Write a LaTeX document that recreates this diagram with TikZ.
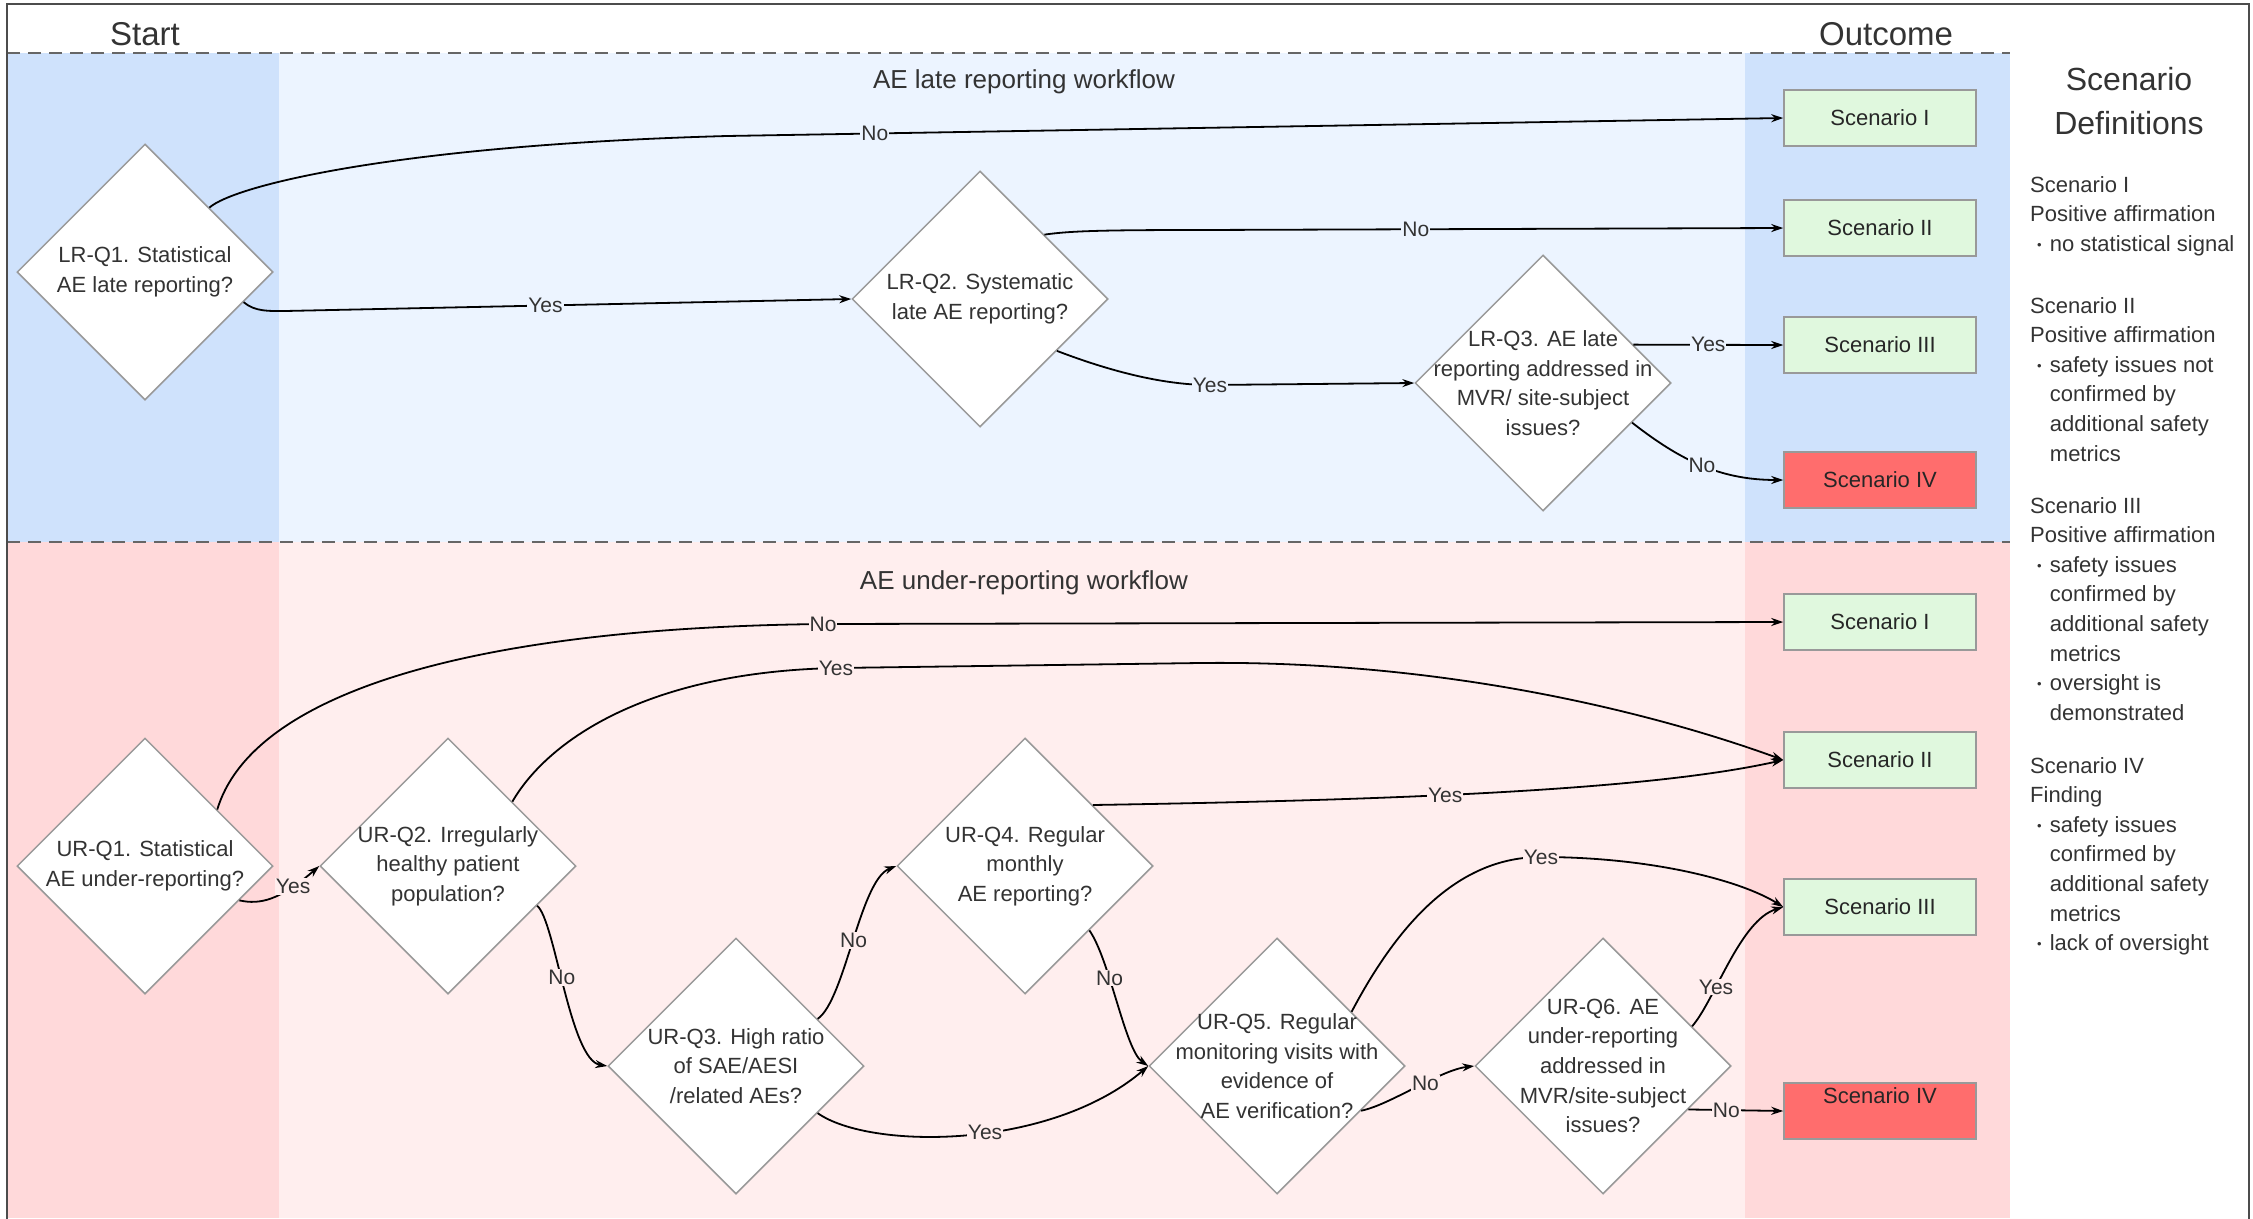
\documentclass[tikz,border=0pt]{standalone}
\usepackage{fontspec}
\setmainfont{Liberation Sans}
\usetikzlibrary{shapes.geometric,arrows.meta}

\definecolor{startblue}{HTML}{CFE2FC}
\definecolor{laneblue}{HTML}{ECF4FF}
\definecolor{startpink}{HTML}{FFD9DA}
\definecolor{lanepink}{HTML}{FFEEEE}
\definecolor{okgreen}{HTML}{E0F8DE}
\definecolor{badred}{HTML}{FF6D6D}

\newcommand{\defbul}{\hspace*{7pt}\raisebox{2pt}{\fontsize{13pt}{13pt}\selectfont\textbullet}\hspace*{8pt}}
\newcommand{\defind}{\hspace*{19.7pt}}

\begin{document}
\begin{tikzpicture}[x=1pt,y=-1pt,
	question/.style={diamond, draw=black!40, line width=1.5pt, fill=white, minimum width=256pt, minimum height=256pt, inner sep=0pt},
	qtext/.style={align=center, inner sep=0pt, font=\fontsize{22pt}{29.6pt}\selectfont, text=black!80},
	scenbox/.style={rectangle, draw=black!40, line width=1.5pt, minimum width=192pt, minimum height=56pt, inner sep=2pt, font=\fontsize{22pt}{26pt}\selectfont, text=black!85},
	good/.style={scenbox, fill=okgreen},
	bad/.style={scenbox, fill=badred},
	flow/.style={draw=black, line width=1.8pt, -{Stealth[length=12pt,width=8pt]}},
	bluelbl/.style={fill=laneblue, inner sep=1pt, font=\fontsize{21pt}{24pt}\selectfont, text=black!80},
	pinklbl/.style={bluelbl, fill=lanepink},
	lanesep/.style={draw=black!60, line width=2pt, dash pattern=on 13pt off 8pt},
	heading/.style={font=\fontsize{33pt}{40pt}\selectfont, text=black!80},
	lanetitle/.style={font=\fontsize{26pt}{30pt}\selectfont, text=black!80},
	deftext/.style={anchor=north west, inner sep=0pt, align=left, font=\fontsize{22pt}{29.6pt}\selectfont, text=black!80}]
	
	\useasboundingbox (0,0) rectangle (2253,1218);
	
	\fill[startblue] (7,53) rectangle (279,542);
	\fill[laneblue] (279,53) rectangle (1745,542);
	\fill[startblue] (1745,53) rectangle (2010,542);
	\fill[startpink] (7,542) rectangle (279,1218);
	\fill[lanepink] (279,542) rectangle (1745,1218);
	\fill[startpink] (1745,542) rectangle (2010,1218);
	\draw[lanesep] (7,53) -- (2010,53);
	\draw[lanesep] (7,542) -- (2010,542);
	\draw[black!70, line width=2.5pt] (7,1230) -- (7,4) -- (2249,4) -- (2249,1230);
	
	\node[heading] (starthead) at (145,34) {Start};
	\node[heading] (outhead) at (1886,34) {Outcome};
	\node[lanetitle] (latetitle) at (1024,82) {AE late reporting workflow};
	\node[lanetitle] (undertitle) at (1024,583) {AE under-reporting workflow};
	
	\node[question, label={[qtext]center:LR-Q1. Statistical\\AE late reporting?}] (LRQ1) at (145,272) {};
	\node[question, label={[qtext]center:LR-Q2. Systematic\\late AE reporting?}] (LRQ2) at (980,299) {};
	\node[question, label={[qtext]center:LR-Q3. AE late\\reporting addressed in\\MVR/ site-subject\\issues?}] (LRQ3) at (1543,383) {};
	
	\node[question, label={[qtext]center:UR-Q1. Statistical\\AE under-reporting?}] (URQ1) at (145,866) {};
	\node[question, label={[qtext]center:UR-Q2. Irregularly\\healthy patient\\population?}] (URQ2) at (448,866) {};
	\node[question, label={[qtext]center:UR-Q3. High ratio\\of SAE/AESI\\/related AEs?}] (URQ3) at (736,1066) {};
	\node[question, label={[qtext]center:UR-Q4. Regular\\monthly\\AE reporting?}] (URQ4) at (1025,866) {};
	\node[question, label={[qtext]center:UR-Q5. Regular\\monitoring visits with\\evidence of\\AE verification?}] (URQ5) at (1277,1066) {};
	\node[question, label={[qtext]center:UR-Q6. AE\\under-reporting\\addressed in\\MVR/site-subject\\issues?}] (URQ6) at (1603,1066) {};
	
	\node[good] (ScIa) at (1880,118) {Scenario I};
	\node[good] (ScIIa) at (1880,228) {Scenario II};
	\node[good] (ScIIIa) at (1880,345) {Scenario III};
	\node[bad] (ScIVa) at (1880,480) {Scenario IV};
	\node[good] (ScIb) at (1880,622) {Scenario I};
	\node[good] (ScIIb) at (1880,760) {Scenario II};
	\node[good] (ScIIIb) at (1880,907) {Scenario III};
	\node[bad, text depth=30pt] (ScIVb) at (1880,1111) {Scenario IV};
	
	\draw[flow] (LRQ1.north east) .. controls (235,185) and (400,145) .. (727,136) -- node[bluelbl, pos=0.14]{No} (ScIa.west);
	\draw[flow] (LRQ1.-17) .. controls (255,312) and (270,311) .. (285,311) -- node[bluelbl, pos=0.46]{Yes} (LRQ2.west);
	\draw[flow] (LRQ2.north east) .. controls (1070,231) and (1100,230) .. (1200,230) -- node[bluelbl, pos=0.37]{No} (ScIIa.west);
	\draw[flow] (LRQ2.-34) .. controls (1120,375) and (1170,385) .. (1210,385) node[bluelbl]{Yes} -- (LRQ3.west);
	\draw[flow] (LRQ3.23) -- node[bluelbl]{Yes} (ScIIIa.west);
	\draw[flow] (LRQ3.-24) .. controls (1680,460) and (1720,480) .. node[bluelbl]{No} (ScIVa.west);
	
	\draw[flow] (URQ1.38) .. controls (250,700) and (450,628) .. (823,624) node[pinklbl]{No} -- (ScIb.west);
	\draw[flow] (URQ1.-20) .. controls (260,905) and (280,900) .. node[pinklbl, pos=0.75]{Yes} (URQ2.west);
	\draw[flow] (URQ2.north east) .. controls (545,745) and (640,672) .. (836,668) node[pinklbl]{Yes} -- (1200,663) .. controls (1450,660) and (1660,715) .. (ScIIb.west);
	\draw[flow] (URQ2.-24) .. controls (555,920) and (570,1060) .. node[pinklbl, pos=0.45]{No} (URQ3.west);
	\draw[flow] (URQ3.30) .. controls (845,1000) and (860,880) .. node[pinklbl]{No} (URQ4.west);
	\draw[flow] (URQ3.-30) .. controls (870,1150) and (1050,1150) .. node[pinklbl, pos=0.55]{Yes} (URQ5.west);
	\draw[flow] (URQ4.42) .. controls (1400,800) and (1650,790) .. node[pinklbl, pos=0.42]{Yes} (ScIIb.west);
	\draw[flow] (URQ4.south east) .. controls (1110,960) and (1125,1050) .. node[pinklbl, pos=0.35]{No} (URQ5.west);
	\draw[flow] (URQ5.36) .. controls (1400,920) and (1460,857) .. (1541,857) node[pinklbl]{Yes} .. controls (1650,857) and (1740,880) .. (ScIIIb.west);
	\draw[flow] (URQ5.-28) .. controls (1390,1105) and (1440,1070) .. node[pinklbl, pos=0.58]{No} (URQ6.west);
	\draw[flow] (URQ6.24) .. controls (1715,1000) and (1740,920) .. node[pinklbl, pos=0.33]{Yes} (ScIIIb.west);
	\draw[flow] (URQ6.-27) -- node[pinklbl, pos=0.4]{No} (ScIVb.west);
	
	\node[align=center, font=\fontsize{32pt}{44pt}\selectfont, text=black!80] (defhead) at (2129,101) {Scenario\\Definitions};
	\node[deftext] (defI) at (2030,176) {Scenario I\\Positive affirmation\\\defbul no statistical signal};
	\node[deftext] (defII) at (2030,297) {Scenario II\\Positive affirmation\\\defbul safety issues not\\\defind confirmed by\\\defind additional safety\\\defind metrics};
	\node[deftext] (defIII) at (2030,497) {Scenario III\\Positive affirmation\\\defbul safety issues\\\defind confirmed by\\\defind additional safety\\\defind metrics\\\defbul oversight is\\\defind demonstrated};
	\node[deftext] (defIV) at (2030,757) {Scenario IV\\Finding\\\defbul safety issues\\\defind confirmed by\\\defind additional safety\\\defind metrics\\\defbul lack of oversight};
	
\end{tikzpicture}
\end{document}
